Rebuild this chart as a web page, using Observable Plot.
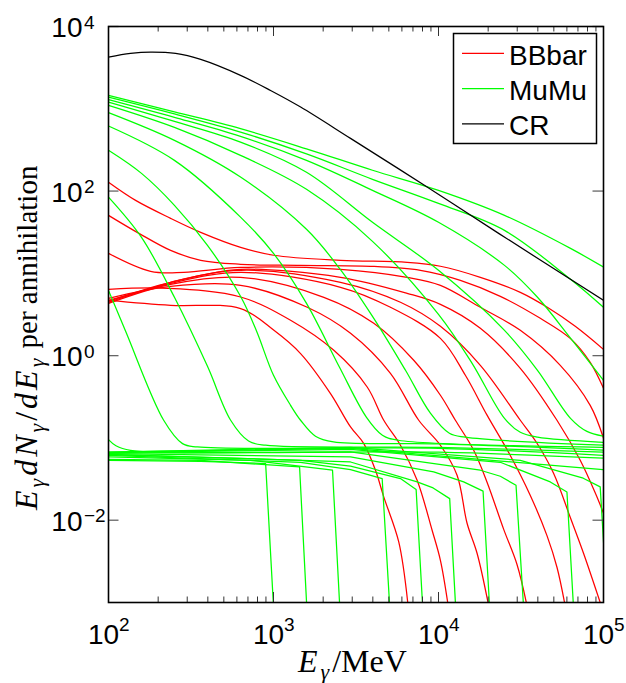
<!DOCTYPE html>
<html><head><meta charset="utf-8">
<script src="https://cdn.jsdelivr.net/npm/d3@7"></script>
<script src="https://cdn.jsdelivr.net/npm/@observablehq/plot@0.6"></script>
<style>body{margin:0;background:#fff}#chart{width:626px;height:683px}</style>
</head><body><div id="chart"></div>
<script>
// ---------------- data (E in MeV, value = E dN/dE per annihilation) ----------------
const crE = [100,136,180,255,362,631,960,1460,2930,8530,23400,100000];
const crV = [4250,4710,4890,4710,3980,2550,1670,1050,437,112,30.2,4.7];

// BBbar curves (red)
const bbE = [
  [100,146,238,362,632,1001,2548,6454,10270,17930,31320,45630,67410,100000],
  [100,153,238,362,632,1459,3871,7770,13570,23700,41400,62850,83070,100000],
  [100,180,286,632,2548,6454,10270,17930,31320,54700,83070,100000],
  [100,157,238,362,632,2548,6454,10270,17930,31320,52240,72270,89060,100000],
  [100,238,632,2548,5881,10270,17930,31320,39530,49810,62850,75670,95500],
  [100,238,632,2548,5114,10270,14550,19690,27240,36010,45440,52240,58050],
  [100,238,632,2019,4053,7078,10270,12660,16340,19690,24810,29910,34060],
  [100,238,632,1602,2930,5114,7589,10270,12960,14900,17130,19960],
  [100,229,632,1269,2321,3697,4658,5881,7421,9147,10270,11370],
  [100,238,632,1006,1459,2216,2930,3526,4150,4658,5742,6509]
];
const bbV = [
  [128,77,46.6,31.5,20.7,16.6,14.4,13.6,12.2,8.95,5.88,3.87,2.27,1.19],
  [50.7,30.6,19.0,14.4,12.9,12.5,12.2,10.9,8.23,5.26,2.84,1.62,0.83,0.401],
  [17.5,10.6,10.3,11.8,11.2,8.95,7.15,3.87,2.03,0.763,0.249,0.099],
  [4.70,6.05,7.78,9.46,11.2,8.95,5.72,4.20,2.15,0.702,0.164,0.0535,0.0215,0.01215],
  [4.57,7.78,10.9,7.78,4.45,2.27,0.763,0.164,0.0861,0.0372,0.01086,0.00397,0.001],
  [4.45,7.56,10.3,6.77,3.87,1.62,0.577,0.189,0.0612,0.0200,0.00650,0.00268,0.001],
  [4.32,7.36,8.95,5.11,2.47,0.878,0.330,0.164,0.0708,0.0290,0.00780,0.00290,0.001],
  [4.97,6.96,7.15,3.87,1.87,0.610,0.164,0.0815,0.0352,0.00919,0.00397,0.001],
  [6.40,6.58,5.16,2.69,1.16,0.416,0.164,0.0815,0.0306,0.00755,0.00326,0.001],
  [4.70,4.09,3.73,2.03,1.06,0.346,0.136,0.0854,0.0405,0.0192,0.00544,0.001]
];

// MuMu curves (green), high-energy component
const muE = [
  [100,251,631,1585,3981,10000,25120,63100,100000],
  [100,251,631,1585,3981,10000,25120,63100,100000],
  [100,251,631,1585,3981,10000,25120,39810,63100,100000],
  [100,251,631,1585,3981,10000,25120,39810,63100,79350,100000],
  [100,251,631,1585,3981,10000,15850,25120,31320,39810,100000],
  [100,251,631,1585,2512,3981,6310,8930,11640,14550,100000],
  [100,251,631,1000,1585,2512,3661,4571,5715,100000],
  [100,158.5,251,398,631,790,1000,1269,1459,1796,2311,10000,100000],
  [100,158.5,251,398,550,706,895,10000,100000],
  [100,127,216,281,346,10000,100000],
  [100,111,136,10000,100000]
];
const muV = [
  [1452,917,573,326,179,102,50.7,20.1,11.9],
  [1387,867,521,283,139,70.8,33.3,8.47,3.86],
  [1291,787,462,236,102,41.7,12.5,5.12,1.63,0.50],
  [1208,703,394,169,41.7,10.9,2.03,0.664,0.173,0.120,0.105],
  [1100,594,272,105,24.5,3.18,0.83,0.173,0.117,0.102,0.0885],
  [897,413,148,34.3,11.5,3.0,0.664,0.20,0.114,0.102,0.0815],
  [617,236,48.3,17.5,4.32,0.723,0.178,0.108,0.0937,0.0769],
  [313,164,67.1,21.9,5.26,1.98,0.577,0.249,0.164,0.105,0.0893,0.0849,0.0708],
  [84.6,27.4,5.12,0.741,0.164,0.0918,0.0815,0.0769,0.0670],
  [6.2,1.98,0.164,0.0853,0.0776,0.0748,0.0615],
  [0.0955,0.0803,0.0708,0.0670,0.0566]
];

// MuMu curves (green), flat low component with endpoint cut-off
const mpE = [
  [100,362,896,997],
  [100,362,1439,1586],
  [100,727,2279,2513],
  [100,1459,2930,4556,5045],
  [100,1459,2930,5881,7318,7990],
  [100,2930,7421,9276,11690,12660],
  [100,2930,9353,14210,18620,20330],
  [100,2930,17930,23700,29500,32650],
  [100,2930,23700,47580,60040,65550],
  [100,2930,31320,75370,95500,105300],
  [100,2930,100000]
];
const mpV = [
  [0.0535,0.0520,0.0488,0.001],
  [0.0550,0.0535,0.0444,0.001],
  [0.0587,0.0535,0.0405,0.001],
  [0.0615,0.0506,0.0411,0.0321,0.001],
  [0.0628,0.0535,0.0453,0.0321,0.0236,0.001],
  [0.0633,0.0510,0.0292,0.0247,0.0183,0.001],
  [0.0646,0.0587,0.0386,0.0292,0.0226,0.001],
  [0.0655,0.0675,0.0405,0.0342,0.0266,0.001],
  [0.0664,0.0728,0.0506,0.0292,0.0220,0.001],
  [0.0670,0.0769,0.0535,0.0324,0.0254,0.001],
  [0.0670,0.0748,0.0411]
];

// axis ticks and labels
const xMajorTicks = [1e2,1e3,1e4,1e5];
const xMinorTicks = [200,300,400,500,600,700,800,900,2000,3000,4000,5000,6000,7000,8000,9000,20000,30000,40000,50000,60000,70000,80000,90000];
const xTickExp = ["2","3","4","5"];
const yMajorTicks = [1e-2,1,1e2,1e4];
const yTickExp = ["\u22122","0","2","4"];
const legendLabels = ["BBbar","MuMu","CR"];
const legendColors = ["#ff0000","#00ff00","#000000"];

// ---------------- build tables ----------------
const toRows = (fam, Es, Vs) => Es.flatMap((arr, i) => arr.map((E, j) => ({fam, id: fam + i, E, v: Vs[i][j]})));
const redRows = toRows("bb", bbE, bbV);
const muRows = toRows("mu", muE, muV);
const mpRows = toRows("mp", mpE, mpV);
const crRows = crE.map((E, j) => ({fam: "cr", id: "cr", E, v: crV[j]}));

const W = 626, H = 683, mL = 108, mR = 23, mT = 26, mB = 81;
const fw = W - mL - mR, fh = H - mT - mB;
const sans = "Liberation Sans, Arial, Helvetica, sans-serif";
const serif = "Liberation Serif, Times New Roman, serif";
const lineOpts = {x: "E", y: "v", z: "id", strokeWidth: 1.25, clip: true};

const svg = Plot.plot({
  width: W, height: H,
  marginLeft: mL, marginRight: mR, marginTop: mT, marginBottom: mB,
  style: {background: "white", fontFamily: sans, overflow: "visible"},
  x: {type: "log", domain: [1e2, 1e5], axis: null},
  y: {type: "log", domain: [1e-3, 1e4], axis: null},
  marks: [
    Plot.line(redRows, {...lineOpts, stroke: "#ff0000", curve: "catmull-rom"}),
    Plot.line(mpRows, {...lineOpts, stroke: "#00ff00", curve: "linear"}),
    Plot.line(muRows, {...lineOpts, stroke: "#00ff00", curve: "catmull-rom"}),
    Plot.line(crRows, {...lineOpts, stroke: "#000000", curve: "catmull-rom"}),
    // x ticks (bottom and top, inward)
    Plot.tickX(xMajorTicks, {x: d => d, stroke: "#333", insetTop: fh - 10}),
    Plot.tickX(xMajorTicks, {x: d => d, stroke: "#333", insetBottom: fh - 10}),
    Plot.tickX(xMinorTicks, {x: d => d, stroke: "#333", insetTop: fh - 5.5}),
    Plot.tickX(xMinorTicks, {x: d => d, stroke: "#333", insetBottom: fh - 5.5}),
    // y ticks (left and right, inward)
    Plot.tickY(yMajorTicks, {y: d => d, stroke: "#666", strokeWidth: 1.3, insetRight: fw - 10.5}),
    Plot.tickY(yMajorTicks, {y: d => d, stroke: "#666", strokeWidth: 1.3, insetLeft: fw - 10.5}),
    Plot.frame({stroke: "black", strokeWidth: 1.6}),
    // x tick labels
    Plot.text(xMajorTicks, {x: d => d, text: () => "10", frameAnchor: "bottom", lineAnchor: "bottom", textAnchor: "middle", dx: -5, dy: 41, fontSize: 28, fontFamily: sans, fill: "black"}),
    Plot.text(xMajorTicks, {x: d => d, text: (d, i) => xTickExp[i], frameAnchor: "bottom", lineAnchor: "bottom", textAnchor: "start", dx: 10.5, dy: 28, fontSize: 19, fontFamily: sans, fill: "black"}),
    // y tick labels
    Plot.text(yMajorTicks, {y: d => d, text: () => "10", frameAnchor: "left", lineAnchor: "bottom", textAnchor: "end", dx: -26, dy: 10.6, fontSize: 28, fontFamily: sans, fill: "black"}),
    Plot.text(yMajorTicks, {y: d => d, text: (d, i) => yTickExp[i], frameAnchor: "left", lineAnchor: "bottom", textAnchor: "start", dx: -24.5, dy: 2, fontSize: 19, fontFamily: sans, fill: "black"})
  ]
});

const root = d3.select(svg);

// rich math-like text helper: [text, style] with flags i=italic, s=subscript, m=math letter size, w=spaced
function rich(sel, parts) {
  let shift = 0;
  parts.forEach(([t, st]) => {
    const ts = sel.append("tspan").text(t);
    if (st.includes("i")) ts.attr("font-style", "italic");
    if (st.includes("m")) ts.attr("font-size", 32);
    if (st.includes("w")) ts.attr("letter-spacing", 3);
    if (st.includes("s")) {
      ts.attr("font-size", 22).attr("letter-spacing", 3).attr("dy", 7 - shift);
      shift = 7;
    } else if (shift) {
      ts.attr("dy", -shift);
      shift = 0;
    }
  });
}

// y-axis label (runs upward from y = 510)
const yl = root.append("text")
  .attr("transform", "translate(37,510) rotate(-90)")
  .attr("text-anchor", "start")
  .attr("font-family", serif).attr("font-size", 29).attr("fill", "black");
rich(yl, [["E","imw"],["\u03b3","is"],["dN","imw"],["\u03b3","is"],["/","mw"],["dE","imw"],["\u03b3","is"],[" per annihilation",""]]);

// x-axis label
const xl = root.append("text")
  .attr("x", 298).attr("y", 672)
  .attr("text-anchor", "start")
  .attr("font-family", serif).attr("font-size", 29).attr("fill", "black");
rich(xl, [["E","imw"],["\u03b3","is"],["/MeV","m"]]);

// legend
const lg = root.append("g");
lg.append("rect").attr("x", 453.5).attr("y", 33.5).attr("width", 143).attr("height", 110)
  .attr("fill", "white").attr("stroke", "black").attr("stroke-width", 1.5);
legendLabels.forEach((lab, i) => {
  const cy = 53.3 + i * 35.3;
  lg.append("line").attr("x1", 462).attr("x2", 504).attr("y1", cy).attr("y2", cy)
    .attr("stroke", legendColors[i]).attr("stroke-width", 1.25);
  lg.append("text").attr("x", 509).attr("y", cy + 11.5)
    .attr("text-anchor", "start")
    .attr("font-family", sans).attr("font-size", 28).attr("fill", "black").text(lab);
});

document.getElementById("chart").appendChild(svg);
</script>
</body></html>
